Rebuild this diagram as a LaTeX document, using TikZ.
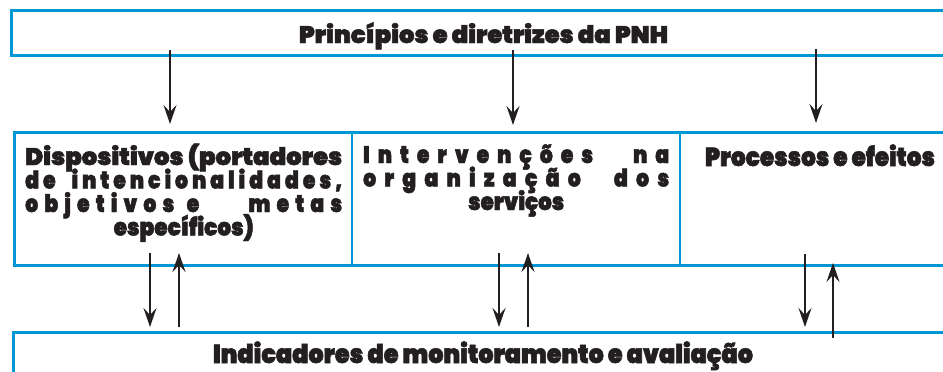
\documentclass[tikz,border=0pt]{standalone}
\usepackage{fontspec}
\setmainfont{Poppins}[UprightFont=* Black, FakeStretch=0.85, FakeBold=2]
\usetikzlibrary{arrows.meta}
\definecolor{pnhblue}{RGB}{0,152,212}
\definecolor{ink}{RGB}{35,31,32}
\newlength\fitw
\newcommand\fitx[2]{\settowidth\fitw{#2}\pgfmathsetmacro\fitr{#1/\fitw}\scalebox{\fitr}[1]{#2}}
\newcommand\g[1]{\hskip 0pt plus #1fill\relax}
\tikzset{
  boxline/.style={draw=pnhblue, line width=3pt},
  divline/.style={draw=pnhblue, line width=2.5pt},
  arr/.style={draw=ink, line width=2.2pt, -{Stealth[length=19pt,width=13pt,inset=7pt]}},
  lbl/.style={anchor=base, inner sep=0pt, text=ink},
  col/.style={anchor=base west, inner sep=0pt, text=ink, font=\fontsize{24}{24}\selectfont},
}
\begin{document}
\begin{tikzpicture}[x=1pt,y=-1pt]
\useasboundingbox (0,0) rectangle (943,372);
\clip (0,0) rectangle (943,372);
% boxes
\draw[boxline] (960,10) -- (11,10) -- (11,55) -- (960,55);
\draw[boxline] (960,132) -- (14,132) -- (14,265) -- (960,265);
\draw[divline] (352,132) -- (352,265);
\draw[divline] (680,132) -- (680,265);
\draw[boxline] (960,332) -- (13,332) -- (13,390);
% texts
\node[lbl, font=\fontsize{24}{24}\selectfont] (top) at (483.5,43) {\fitx{369pt}{Princípios e diretrizes da PNH}};
\node[col] (disp) at (25,165) {\vtop{\hsize=317pt \baselineskip=23.5pt \lineskiplimit=-100pt \lineskip=0pt
  \hbox to\hsize{\fitx{317pt}{Dispositivos (portadores}}
  \hbox to\hsize{d\g1e\g4i\g1n\g1t\g1e\g1n\g1c\g1i\g1o\g1n\g1a\g1l\g1i\g1d\g1a\g1d\g1e\g1s\g1,}
  \hbox to\hsize{o\g1b\g1j\g1e\g1t\g1i\g1v\g1o\g1s\g2e\g8m\g1e\g1t\g1a\g1s}
  \hbox to\hsize{\hfil\fitx{140pt}{específicos)}\hfil}}};
\node[col] (interv) at (363,163) {\vtop{\hsize=306pt \baselineskip=23.5pt \lineskiplimit=-100pt \lineskip=0pt
  \hbox to\hsize{I\g1n\g1t\g1e\g1r\g1v\g1e\g1n\g1ç\g1õ\g1e\g1s\g5n\g1a}
  \hbox to\hsize{o\g1r\g1g\g1a\g1n\g1i\g1z\g1a\g1ç\g1ã\g1o\g4d\g1o\g1s}
  \hbox to\hsize{\hfil\fitx{96pt}{serviços}\hfil}}};
\node[lbl, font=\fontsize{26}{26}\selectfont] (proc) at (820,166) {\fitx{230pt}{Processos e efeitos}};
\node[lbl, font=\fontsize{26}{26}\selectfont] (ind) at (483,363) {\fitx{540pt}{Indicadores de monitoramento e avaliação}};
% arrow end points
\coordinate (t1s) at (170,50);  \coordinate (t1e) at (170,124);
\coordinate (t2s) at (513,50);  \coordinate (t2e) at (513,125);
\coordinate (t3s) at (816,49);  \coordinate (t3e) at (816,123);
\coordinate (d1s) at (150,253); \coordinate (d1e) at (150,327);
\coordinate (u1s) at (179,327); \coordinate (u1e) at (179,253);
\coordinate (d2s) at (499,253); \coordinate (d2e) at (499,327);
\coordinate (u2s) at (528,327); \coordinate (u2e) at (528,253);
\coordinate (d3s) at (805,254); \coordinate (d3e) at (805,327);
\coordinate (u3s) at (833,338); \coordinate (u3e) at (833,263);
\foreach \a in {t1,t2,t3,d1,u1,d2,u2,d3,u3} \draw[arr] (\a s) -- (\a e);
\end{tikzpicture}
\end{document}
